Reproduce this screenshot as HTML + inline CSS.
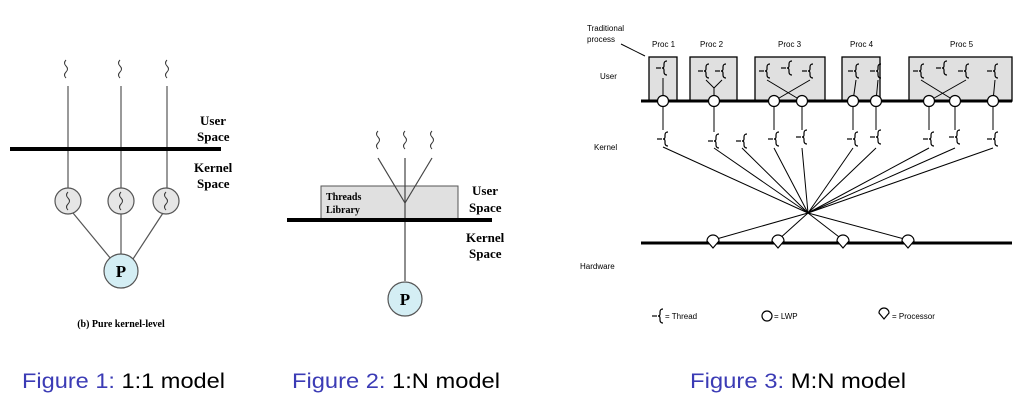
<!DOCTYPE html>
<html><head><meta charset="utf-8"><style>
html,body{margin:0;padding:0;background:#fff;}
svg{display:block;}
.s{font-family:"Liberation Serif",serif;font-weight:bold;}
.h{font-family:"Liberation Sans",sans-serif;font-size:8px;}
.c{font-family:"Liberation Sans",sans-serif;font-size:21px;}
</style></head><body>
<svg width="1030" height="404" viewBox="0 0 1030 404" xmlns="http://www.w3.org/2000/svg">
<defs>
<path id="sq" d="M0 0 q-3 3 0 6 q3 3 0 6 q-3 3 0 6" fill="none" stroke="#333" stroke-width="1"/>
<g id="t" fill="none" stroke="#000" stroke-width="1.2">
<path d="M-8 0 h5"/>
<path d="M3 -7 q-3 0 -3 3 v2 q0 2 -2 2 q2 0 2 2 v2 q0 3 3 3"/>
</g>
</defs>

<!-- Figure 1 -->
<g stroke="#555" stroke-width="1.2" fill="none">
<line x1="68" y1="86" x2="68" y2="190"/><line x1="121" y1="86" x2="121" y2="190"/><line x1="167" y1="86" x2="167" y2="190"/>
<line x1="73" y1="213" x2="111" y2="259"/><line x1="121" y1="214" x2="121" y2="254"/><line x1="163" y1="213" x2="133" y2="259"/>
</g>
<use href="#sq" x="66" y="60"/><use href="#sq" x="120" y="60"/><use href="#sq" x="167" y="60"/>
<rect x="10" y="147" width="211" height="4" fill="#000"/>
<g fill="#e6e6e6" stroke="#555" stroke-width="1.2">
<circle cx="68" cy="201" r="13"/><circle cx="121" cy="201" r="13"/><circle cx="166" cy="201" r="13"/>
<circle cx="121" cy="271" r="17" fill="#d4eef4"/>
</g>
<use href="#sq" x="68" y="192"/><use href="#sq" x="121" y="192"/><use href="#sq" x="166" y="192"/>
<text x="121" y="277" class="s" text-anchor="middle" style="font-size:17px">P</text>
<g class="s" style="font-size:13px">
<text x="200" y="125">User</text><text x="197" y="141">Space</text>
<text x="194" y="172">Kernel</text><text x="197" y="188">Space</text>
</g>
<text x="121" y="327" class="s" style="font-size:10px" text-anchor="middle">(b) Pure kernel-level</text>

<!-- Figure 2 -->
<rect x="321" y="186" width="137" height="33" fill="#e0e0e0" stroke="#555" stroke-width="1"/>
<g stroke="#444" stroke-width="1.2" fill="none">
<line x1="378" y1="158" x2="405" y2="203"/><line x1="432" y1="158" x2="405" y2="203"/>
<line x1="405" y1="158" x2="405" y2="281"/>
</g>
<use href="#sq" x="378" y="131"/><use href="#sq" x="405" y="131"/><use href="#sq" x="432" y="131"/>
<rect x="287" y="218" width="205" height="4" fill="#000"/>
<circle cx="405" cy="299" r="17" fill="#d4eef4" stroke="#555" stroke-width="1.2"/>
<text x="405" y="305" class="s" text-anchor="middle" style="font-size:17px">P</text>
<text x="326" y="200" class="s" style="font-size:10px">Threads</text><text x="326" y="213" class="s" style="font-size:10px">Library</text>
<g class="s" style="font-size:13px">
<text x="472" y="195">User</text><text x="469" y="212">Space</text>
<text x="466" y="242">Kernel</text><text x="469" y="258">Space</text>
</g>

<!-- Figure 3 -->
<text x="587" y="31" class="h">Traditional</text><text x="587" y="42" class="h">process</text>
<line x1="621" y1="44" x2="645" y2="56" stroke="#000" stroke-width="1"/>
<g fill="#e0e0e0" stroke="#000" stroke-width="1.3">
<rect x="649" y="57" width="28" height="44"/><rect x="690" y="57" width="47" height="44"/>
<rect x="755" y="57" width="70" height="44"/><rect x="842" y="57" width="38" height="44"/>
<rect x="909" y="57" width="103" height="44"/>
</g>
<g class="h"><text x="652" y="47">Proc 1</text><text x="700" y="47">Proc 2</text><text x="778" y="47">Proc 3</text><text x="850" y="47">Proc 4</text><text x="950" y="47">Proc 5</text>
<text x="600" y="79">User</text><text x="594" y="150">Kernel</text><text x="580" y="269">Hardware</text></g>
<use href="#t" x="664" y="68"/>
<use href="#t" x="706" y="71"/><use href="#t" x="723" y="71"/>
<use href="#t" x="767" y="71"/><use href="#t" x="789" y="68"/><use href="#t" x="810" y="71"/>
<use href="#t" x="856" y="71"/><use href="#t" x="878" y="71"/>
<use href="#t" x="921" y="71"/><use href="#t" x="944" y="68"/><use href="#t" x="966" y="71"/><use href="#t" x="995" y="71"/>
<g stroke="#000" stroke-width="1" fill="none">
<line x1="663" y1="78" x2="663" y2="101"/>
<line x1="706" y1="80" x2="714" y2="88"/><line x1="722" y1="80" x2="714" y2="88"/><line x1="714" y1="88" x2="714" y2="101"/>
<line x1="767" y1="80" x2="802" y2="101"/><line x1="810" y1="80" x2="774" y2="101"/>
<line x1="856" y1="80" x2="853" y2="101"/><line x1="878" y1="80" x2="876" y2="101"/>
<line x1="921" y1="80" x2="955" y2="101"/><line x1="966" y1="80" x2="929" y2="101"/><line x1="995" y1="80" x2="993" y2="101"/>
<line x1="663" y1="101" x2="663" y2="130"/><line x1="714" y1="101" x2="714" y2="132"/>
<line x1="774" y1="101" x2="774" y2="130"/><line x1="802" y1="101" x2="802" y2="130"/>
<line x1="853" y1="101" x2="853" y2="130"/><line x1="876" y1="101" x2="876" y2="130"/>
<line x1="929" y1="101" x2="929" y2="130"/><line x1="955" y1="101" x2="955" y2="130"/><line x1="993" y1="101" x2="993" y2="130"/>
<line x1="663" y1="147" x2="808" y2="213"/><line x1="714" y1="148" x2="808" y2="213"/><line x1="742" y1="148" x2="808" y2="213"/>
<line x1="774" y1="148" x2="808" y2="213"/><line x1="802" y1="148" x2="808" y2="213"/>
<line x1="853" y1="148" x2="808" y2="213"/><line x1="876" y1="148" x2="808" y2="213"/>
<line x1="929" y1="148" x2="808" y2="213"/><line x1="955" y1="148" x2="808" y2="213"/><line x1="993" y1="148" x2="808" y2="213"/>
<line x1="808" y1="213" x2="713" y2="240"/><line x1="808" y1="213" x2="778" y2="240"/><line x1="808" y1="213" x2="843" y2="240"/><line x1="808" y1="213" x2="908" y2="240"/>
</g>
<rect x="641" y="99.5" width="371" height="3" fill="#000"/>
<g fill="#fff" stroke="#000" stroke-width="1.2">
<circle cx="663" cy="101" r="5.5"/><circle cx="714" cy="101" r="5.5"/><circle cx="774" cy="101" r="5.5"/><circle cx="802" cy="101" r="5.5"/>
<circle cx="853" cy="101" r="5.5"/><circle cx="876" cy="101" r="5.5"/><circle cx="929" cy="101" r="5.5"/><circle cx="955" cy="101" r="5.5"/><circle cx="993" cy="101" r="5.5"/>
</g>
<use href="#t" x="665" y="139"/><use href="#t" x="716" y="141"/><use href="#t" x="744" y="141"/>
<use href="#t" x="776" y="139"/><use href="#t" x="804" y="137"/><use href="#t" x="855" y="139"/><use href="#t" x="878" y="137"/>
<use href="#t" x="931" y="139"/><use href="#t" x="957" y="137"/><use href="#t" x="995" y="139"/>
<rect x="641" y="241.5" width="371" height="3" fill="#000"/>
<g fill="#fff" stroke="#000" stroke-width="1.2">
<path d="M707 241 a6 6 0 0 1 12 0 l-6 7 z"/><path d="M772 241 a6 6 0 0 1 12 0 l-6 7 z"/>
<path d="M837 241 a6 6 0 0 1 12 0 l-6 7 z"/><path d="M902 241 a6 6 0 0 1 12 0 l-6 7 z"/>
</g>
<use href="#t" x="660" y="316"/><text x="665" y="319" class="h">= Thread</text>
<circle cx="767" cy="316" r="5" fill="#fff" stroke="#000" stroke-width="1.2"/><text x="774" y="319" class="h">= LWP</text>
<path d="M879 313 a5 5 0 0 1 10 0 l-5 6 z" fill="#fff" stroke="#000" stroke-width="1.2"/><text x="892" y="319" class="h">= Processor</text>

<text x="22" y="388" class="c" textLength="203" lengthAdjust="spacingAndGlyphs"><tspan fill="#3b3bb5">Figure 1:</tspan> 1:1 model</text>
<text x="292" y="388" class="c" textLength="208" lengthAdjust="spacingAndGlyphs"><tspan fill="#3b3bb5">Figure 2:</tspan> 1:N model</text>
<text x="690" y="388" class="c" textLength="216" lengthAdjust="spacingAndGlyphs"><tspan fill="#3b3bb5">Figure 3:</tspan> M:N model</text>
</svg>
</body></html>
